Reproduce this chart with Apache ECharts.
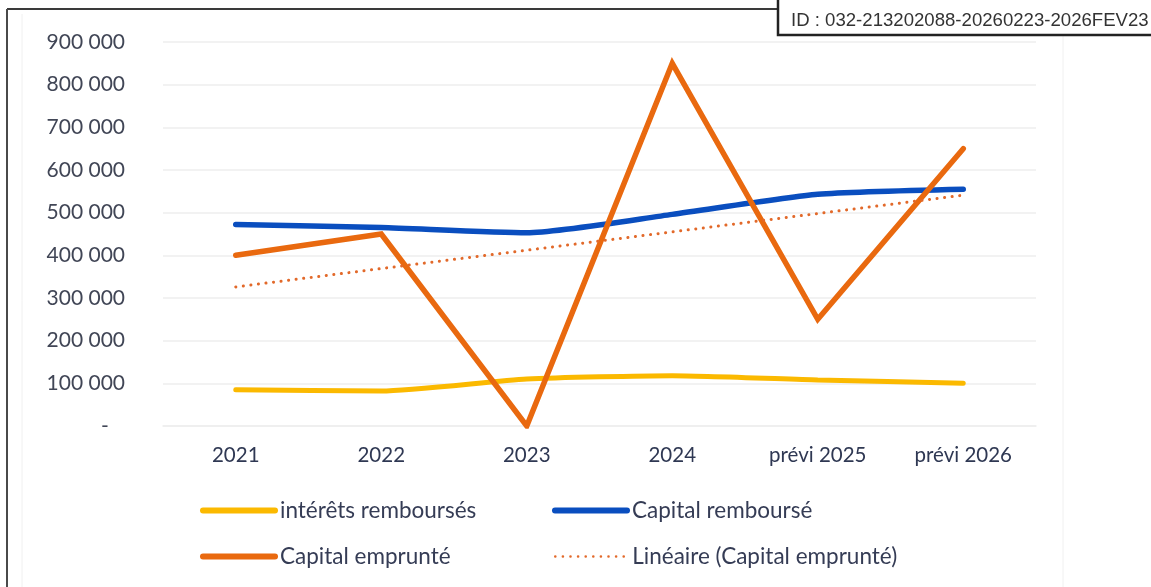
<!DOCTYPE html>
<html>
<head>
<meta charset="utf-8">
<script src="https://cdn.jsdelivr.net/npm/echarts@6/dist/echarts.min.js"></script>
<style>
  html, body { margin: 0; padding: 0; background: #fff; }
  #chart { width: 1151px; height: 587px; }
</style>
</head>
<body>
<div id="chart"></div>
<script>
// values
const categories = ['2021', '2022', '2023', '2024', 'prévi 2025', 'prévi 2026'];
const interetsRembourses = [85000, 82000, 110000, 118000, 108000, 100000];
const capitalRembourse = [472000, 465000, 453000, 496000, 543000, 555000];
const capitalEmprunte = [400000, 450000, 0, 850000, 250000, 650000];
const lineaireEmprunte = [326000, 369000, 412000, 455000, 498000, 541000];
const yMax = 900000;
const yStep = 100000;

const labelFont = 'Lato, "Open Sans", sans-serif';
const textColor = '#353c55';

const chart = echarts.init(document.getElementById('chart'));

function legendAt(name, left, top, lineWidth) {
  return {
    data: [name],
    left: left,
    top: top,
    padding: 0,
    itemWidth: 72,
    itemHeight: 6,
    itemStyle: { opacity: 0 },
    lineStyle: { width: lineWidth, cap: 'round' },
    textStyle: { fontFamily: labelFont, fontSize: 22.5, color: textColor },
    selectedMode: false
  };
}

const option = {
  backgroundColor: '#fff',
  animation: false,
  grid: { left: 163, right: 115, top: 42, bottom: 161 },
  legend: [
    legendAt('intérêts remboursés', 200, 499, 6),
    legendAt('Capital remboursé', 552, 499, 6),
    legendAt('Capital emprunté', 200, 545, 6),
    legendAt('Linéaire (Capital emprunté)', 554, 545, 2.5)
  ],
  xAxis: {
    type: 'category',
    data: categories,
    boundaryGap: true,
    axisLine: { lineStyle: { color: '#eeeeee', width: 1.5 } },
    axisTick: { show: false },
    axisLabel: {
      fontFamily: labelFont,
      fontSize: 20.5,
      color: '#2f3853',
      margin: 19
    }
  },
  yAxis: {
    type: 'value',
    min: 0,
    max: yMax,
    interval: yStep,
    axisLine: { show: false },
    axisTick: { show: false },
    splitLine: { lineStyle: { color: '#eeeeee', width: 1.5 } },
    axisLabel: {
      fontFamily: labelFont,
      fontSize: 21,
      color: '#414656',
      margin: 38,
      formatter: v => v === 0 ? '-   ' : (v / 1000) + ' 000'
    }
  },
  series: [
    {
      name: 'intérêts remboursés',
      type: 'line',
      data: interetsRembourses,
      symbol: 'none',
      smooth: 0.2,
      color: '#fbb900',
      lineStyle: { width: 5, cap: 'round' }
    },
    {
      name: 'Capital remboursé',
      type: 'line',
      data: capitalRembourse,
      symbol: 'none',
      smooth: 0.2,
      color: '#0a4ebf',
      lineStyle: { width: 5.5, cap: 'round' }
    },
    {
      name: 'Capital emprunté',
      type: 'line',
      data: capitalEmprunte,
      symbol: 'none',
      color: '#e9690f',
      lineStyle: { width: 5.5, cap: 'round', join: 'miter' }
    },
    {
      name: 'Linéaire (Capital emprunté)',
      type: 'line',
      data: lineaireEmprunte,
      symbol: 'none',
      color: '#e2692a',
      lineStyle: { width: 3, type: [0.1, 7.5], cap: 'round' }
    }
  ],
  graphic: [
    // scanned page frame
    { type: 'line', shape: { x1: 7, y1: 9, x2: 780, y2: 9 }, style: { stroke: '#3a3a3a', lineWidth: 2 } },
    { type: 'line', shape: { x1: 7, y1: 9, x2: 7, y2: 587 }, style: { stroke: '#4a4a4a', lineWidth: 2 } },
    { type: 'line', shape: { x1: 22, y1: 14, x2: 22, y2: 587 }, style: { stroke: '#f0f0f0', lineWidth: 1 } },
    { type: 'line', shape: { x1: 1063, y1: 35, x2: 1063, y2: 587 }, style: { stroke: '#f0f0f0', lineWidth: 1 } },
    // ID stamp
    {
      type: 'rect',
      shape: { x: 778, y: -3, width: 390, height: 38 },
      style: { fill: '#fff', stroke: '#222', lineWidth: 2.5 }
    },
    {
      type: 'text',
      left: 791,
      top: 11,
      style: {
        text: 'ID : 032-213202088-20260223-2026FEV23',
        fontFamily: '"Liberation Sans", Arial, sans-serif',
        fontSize: 18.6,
        fill: '#333'
      }
    }
  ]
};

chart.setOption(option);
</script>
</body>
</html>
